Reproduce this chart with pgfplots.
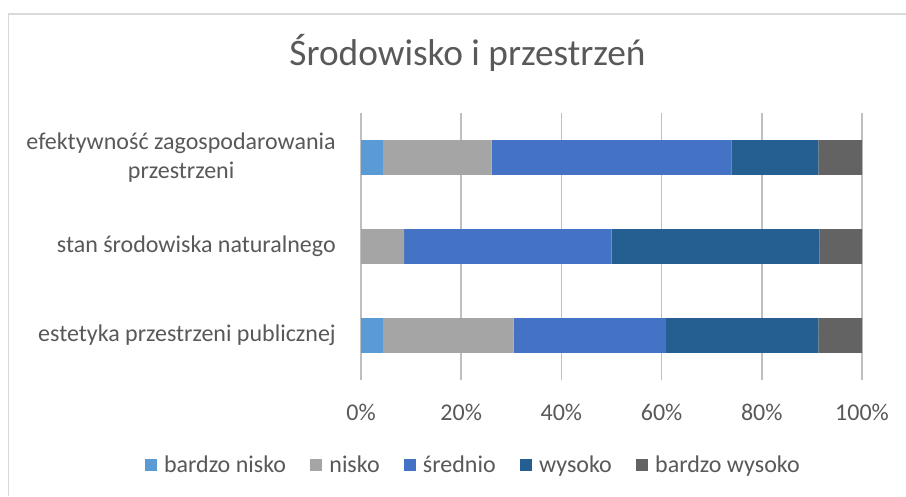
\documentclass[border=0pt]{standalone}
\usepackage{fontspec}
\setmainfont{Carlito}
\usepackage{pgfplots}
\pgfplotsset{compat=1.18}
\usepackage{pgfplotstable}
\definecolor{cBN}{HTML}{5B9BD5}
\definecolor{cN}{HTML}{A5A5A5}
\definecolor{cS}{HTML}{4472C4}
\definecolor{cW}{HTML}{255E91}
\definecolor{cBW}{HTML}{636363}
\definecolor{txt}{HTML}{595959}
\definecolor{grid}{HTML}{D9D9D9}
\pgfplotstableread{
y bn n s w bw
0 4.35 26.09 30.43 30.43 8.70
1 0 8.6 41.4 41.5 8.5
2 4.35 21.74 47.83 17.39 8.70
}\datatable
\begin{document}
\begin{tikzpicture}
\useasboundingbox (0,0) rectangle (679.5pt,372pt);
\fill[white] (0,0) rectangle (679.5pt,372pt);
\draw[grid, line width=1.2pt] (6.4pt,0) -- (6.4pt,361.5pt) -- (679.5pt,361.5pt);
\node[text=txt, font=\fontsize{28}{33}\selectfont, anchor=base] at (350.6pt,322.5pt) {Środowisko i przestrzeń};
\begin{axis}[
  at={(270.75pt,87pt)}, anchor=south west,
  scale only axis, width=375.75pt, height=200.25pt,
  xbar stacked, bar width=0.39,
  xmin=0, xmax=100, ymin=-0.5, ymax=2.5,
  xtick={0,20,40,60,80,100},
  xticklabel={\pgfmathprintnumber{\tick}\%},
  /pgf/number format/assume math mode=true,
  ytick={0,1,2},
  yticklabels={{estetyka przestrzeni publicznej},{stan środowiska naturalnego},{efektywność zagospodarowania\\przestrzeni}},
  axis line style={draw=none},
  major tick length=0pt,
  xmajorgrids, major grid style={grid, line width=1.2pt},
  tick label style={text=txt, font=\fontsize{18}{21.75}\selectfont},
  xticklabel style={anchor=base, yshift=-30.4pt},
  yticklabel style={align=center, anchor=east, inner sep=0pt, xshift=-18.75pt},
  legend columns=5,
  legend style={at={(0.2246,-0.318)}, anchor=center, draw=none, fill=none,
    font=\fontsize{18}{21.75}\selectfont, text=txt,
    /tikz/every odd column/.append style={column sep=3.5pt},
    /tikz/every even column/.append style={column sep=16pt}},
  legend image code/.code={\fill[#1] (0pt,-4.5pt) rectangle (9pt,4.5pt);},
]
\addplot[fill=cBN, draw=none] table[x=bn, y=y] {\datatable};
\addplot[fill=cN, draw=none] table[x=n, y=y] {\datatable};
\addplot[fill=cS, draw=none] table[x=s, y=y] {\datatable};
\addplot[fill=cW, draw=none] table[x=w, y=y] {\datatable};
\addplot[fill=cBW, draw=none] table[x=bw, y=y] {\datatable};
\legend{bardzo nisko, nisko, średnio, wysoko, bardzo wysoko}
\end{axis}
\end{tikzpicture}
\end{document}
